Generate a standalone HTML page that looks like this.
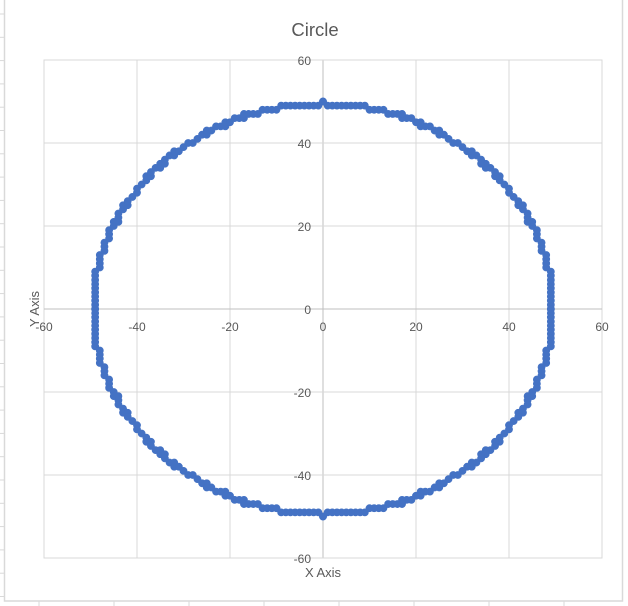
<!DOCTYPE html>
<html><head><meta charset="utf-8"><style>
html,body{margin:0;padding:0;background:#fff;}
svg{display:block;font-family:"Liberation Sans",sans-serif;}
</style></head><body>
<svg id="chart" width="628" height="606" viewBox="0 0 628 606" xmlns="http://www.w3.org/2000/svg">
<rect x="0" y="0" width="628" height="606" fill="#fff"/>
<g id="sheet-ticks"></g>
<rect x="4.5" y="-2" width="618" height="603" fill="#fff" stroke="#d9d9d9" stroke-width="1.5"/>
<text x="315" y="36" text-anchor="middle" font-size="18.5" fill="#595959">Circle</text>
<rect x="44" y="60" width="558" height="498" fill="none" stroke="#d9d9d9" stroke-width="1"/>
<g id="grid"></g>
<g id="ticks"></g>
<g id="pts"></g>
<text x="323" y="577" text-anchor="middle" font-size="13" fill="#595959">X Axis</text>
<text x="0" y="0" transform="translate(39,309) rotate(-90)" text-anchor="middle" font-size="13" fill="#595959">Y Axis</text>
</svg>
<script>
const xTicks = [-60,-40,-20,0,20,40,60];
const yTicks = [-60,-40,-20,0,20,40,60];
const q1x = [49,49,49,49,49,49,49,49,49,49,48,48,48,48,47,47,47,46,46,46,45,45,44,44,44,43,43,42,42,41,40,40,39,38,38,37,37,36,35,35,34,34,33,32,32,31,30,29,28,27,26,25,25,24,23,22,21,21,20,19,18,17,17,16,15,14,13,12,11,10,9,8,7,6,5,4,3,2,1,0];
const q1y = [0,1,2,3,4,5,6,7,8,9,10,11,12,13,14,15,16,17,18,19,20,21,21,22,23,24,25,25,26,27,28,29,30,31,32,32,33,34,34,35,35,36,37,37,38,38,39,40,40,41,42,42,43,43,44,44,44,45,45,46,46,46,47,47,47,47,48,48,48,48,49,49,49,49,49,49,49,49,49,50];
const q2x = [-49,-49,-49,-49,-49,-49,-49,-49,-49,-49,-48,-48,-48,-48,-47,-47,-47,-46,-46,-46,-45,-45,-44,-44,-44,-43,-43,-42,-42,-41,-40,-40,-39,-38,-38,-37,-37,-36,-35,-35,-34,-34,-33,-32,-32,-31,-30,-29,-28,-27,-26,-25,-25,-24,-23,-22,-21,-21,-20,-19,-18,-17,-17,-16,-15,-14,-13,-12,-11,-10,-9,-8,-7,-6,-5,-4,-3,-2,-1,0];
const q2y = [0,1,2,3,4,5,6,7,8,9,10,11,12,13,14,15,16,17,18,19,20,21,21,22,23,24,25,25,26,27,28,29,30,31,32,32,33,34,34,35,35,36,37,37,38,38,39,40,40,41,42,42,43,43,44,44,44,45,45,46,46,46,47,47,47,47,48,48,48,48,49,49,49,49,49,49,49,49,49,50];
const q3x = [-49,-49,-49,-49,-49,-49,-49,-49,-49,-49,-48,-48,-48,-48,-47,-47,-47,-46,-46,-46,-45,-45,-44,-44,-44,-43,-43,-42,-42,-41,-40,-40,-39,-38,-38,-37,-37,-36,-35,-35,-34,-34,-33,-32,-32,-31,-30,-29,-28,-27,-26,-25,-25,-24,-23,-22,-21,-21,-20,-19,-18,-17,-17,-16,-15,-14,-13,-12,-11,-10,-9,-8,-7,-6,-5,-4,-3,-2,-1,0];
const q3y = [0,-1,-2,-3,-4,-5,-6,-7,-8,-9,-10,-11,-12,-13,-14,-15,-16,-17,-18,-19,-20,-21,-21,-22,-23,-24,-25,-25,-26,-27,-28,-29,-30,-31,-32,-32,-33,-34,-34,-35,-35,-36,-37,-37,-38,-38,-39,-40,-40,-41,-42,-42,-43,-43,-44,-44,-44,-45,-45,-46,-46,-46,-47,-47,-47,-47,-48,-48,-48,-48,-49,-49,-49,-49,-49,-49,-49,-49,-49,-50];
const q4x = [49,49,49,49,49,49,49,49,49,49,48,48,48,48,47,47,47,46,46,46,45,45,44,44,44,43,43,42,42,41,40,40,39,38,38,37,37,36,35,35,34,34,33,32,32,31,30,29,28,27,26,25,25,24,23,22,21,21,20,19,18,17,17,16,15,14,13,12,11,10,9,8,7,6,5,4,3,2,1,0];
const q4y = [0,-1,-2,-3,-4,-5,-6,-7,-8,-9,-10,-11,-12,-13,-14,-15,-16,-17,-18,-19,-20,-21,-21,-22,-23,-24,-25,-25,-26,-27,-28,-29,-30,-31,-32,-32,-33,-34,-34,-35,-35,-36,-37,-37,-38,-38,-39,-40,-40,-41,-42,-42,-43,-43,-44,-44,-44,-45,-45,-46,-46,-46,-47,-47,-47,-47,-48,-48,-48,-48,-49,-49,-49,-49,-49,-49,-49,-49,-49,-50];

const NS = "http://www.w3.org/2000/svg";
const X0 = 44, X1 = 602, Y0 = 558, Y1 = 60;
function sx(v){ return X0 + (v + 60) / 120 * (X1 - X0); }
function sy(v){ return Y0 - (v + 60) / 120 * (Y0 - Y1); }
function mk(tag, attrs){ const e = document.createElementNS(NS, tag); for (const k in attrs) e.setAttribute(k, attrs[k]); return e; }

const sheet = document.getElementById('sheet-ticks');
for (let y = 14; y < 600; y += 23.3) {
  const l = mk('line', {x1:0, x2:4, y1:y, y2:y, stroke:'#d9d9d9', 'stroke-width':1});
  
  
  sheet.appendChild(l);
}
for (let x = 39; x < 628; x += 75) {
  const l = mk('line', {x1:x, x2:x, y1:601, y2:606, stroke:'#d9d9d9', 'stroke-width':1});
  
  
  sheet.appendChild(l);
}

const grid = document.getElementById('grid');
xTicks.forEach(t => {
  const l = mk('line', {x1:sx(t), x2:sx(t), y1:Y1, y2:Y0, stroke: t === 0 ? '#bfbfbf' : '#d9d9d9', 'stroke-width':1});
  
  
  grid.appendChild(l);
});
yTicks.forEach(t => {
  const l = mk('line', {x1:X0, x2:X1, y1:sy(t), y2:sy(t), stroke: t === 0 ? '#bfbfbf' : '#d9d9d9', 'stroke-width':1});
  
  
  grid.appendChild(l);
});

const ticks = document.getElementById('ticks');
xTicks.forEach(t => {
  if (t === 0) return;
  const tx = mk('text', {x:sx(t), y:sy(0) + 22, 'text-anchor':'middle', 'font-size':12, fill:'#595959'});
  tx.textContent = t;
  
  
  ticks.appendChild(tx);
});
yTicks.forEach(t => {
  const tx = mk('text', {x:sx(0) - 12, y:sy(t) + 5, 'text-anchor':'end', 'font-size':12, fill:'#595959'});
  tx.textContent = t;
  
  
  ticks.appendChild(tx);
});
const zx = mk('text', {x:sx(0), y:sy(0) + 22, 'text-anchor':'middle', 'font-size':12, fill:'#595959'});
zx.textContent = '0';


ticks.appendChild(zx);

const pts = document.getElementById('pts');
[[q1x,q1y],[q2x,q2y],[q3x,q3y],[q4x,q4y]].forEach(([xs, ys]) => {
  xs.forEach((xv, i) => {
    const c = mk('circle', {cx:sx(xv), cy:sy(ys[i]), r:3.6, fill:'#4472c4', stroke:'#4472c4', 'stroke-width':0.6});
    
    
    pts.appendChild(c);
  });
});
</script>
</body></html>
